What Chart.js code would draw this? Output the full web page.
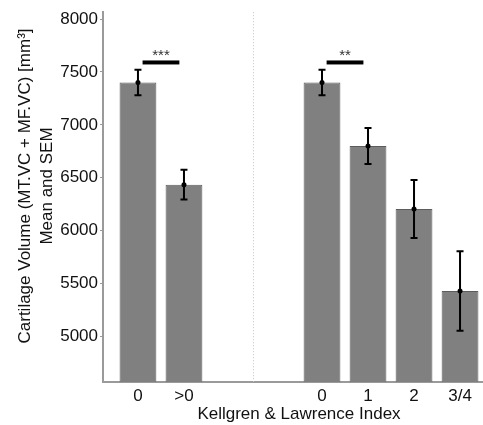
<!DOCTYPE html>
<html>
<head>
<meta charset="utf-8">
<script src="https://cdn.jsdelivr.net/npm/chart.js@4"></script>
<style>
    html, body { margin: 0; padding: 0; background: #fff; overflow: hidden; }
    #wrap { width: 483px; height: 425px; overflow: hidden; }
</style>
</head>
<body>
<div id="wrap"><canvas id="barChart" width="497" height="425"></canvas></div>
<script>
// KL grade groups; the two blank slots are the gap between the panels
const categories = ['0', '>0', '', '', '0', '1', '2', '3/4'];
const means = [7400, 6435, null, null, 7400, 6800, 6205, 5430];
const sems = [120, 140, null, null, 120, 170, 275, 375];
const yTicks = [5000, 5500, 6000, 6500, 7000, 7500, 8000];
const sigPairs = [[0, 1], [4, 5]];
const sigLabels = ['***', '**'];
const sigLevel = 7590;
const yTitle = ['Cartilage Volume (MT.VC + MF.VC) [mm\u00b3]', 'Mean and SEM'];
const xTitle = 'Kellgren & Lawrence Index';

const fontFamily = '"Liberation Sans", Arial, Helvetica, sans-serif';

const barData = [];
means.forEach((m, i) => { if (m !== null) barData.push({x: i, y: m}); });

const extras = {
    id: 'extras',
    beforeDatasetsDraw(chart) {
        // dotted separator between the two groups
        const ctx = chart.ctx, xs = chart.scales.x, area = chart.chartArea;
        const x = Math.round(xs.getPixelForValue(2.5)) + 0.5;
        ctx.save();
        ctx.strokeStyle = '#c4c4c4';
        ctx.lineWidth = 1;
        ctx.setLineDash([1, 2]);
        ctx.beginPath();
        ctx.moveTo(x, area.top);
        ctx.lineTo(x, area.bottom);
        ctx.stroke();
        ctx.restore();
    },
    afterDatasetsDraw(chart) {
        const ctx = chart.ctx, xs = chart.scales.x, ys = chart.scales.y;
        ctx.save();
        // error bars (mean +/- SEM)
        ctx.strokeStyle = '#000';
        ctx.fillStyle = '#000';
        ctx.lineWidth = 2;
        means.forEach((m, i) => {
            if (m === null) return;
            const x = xs.getPixelForValue(i);
            const yT = ys.getPixelForValue(m + sems[i]);
            const yB = ys.getPixelForValue(m - sems[i]);
            ctx.beginPath();
            ctx.moveTo(x, yT); ctx.lineTo(x, yB);
            ctx.moveTo(x - 3.5, yT); ctx.lineTo(x + 3.5, yT);
            ctx.moveTo(x - 3.5, yB); ctx.lineTo(x + 3.5, yB);
            ctx.stroke();
            ctx.beginPath();
            ctx.arc(x, ys.getPixelForValue(m), 2.5, 0, Math.PI * 2);
            ctx.fill();
        });
        // significance brackets
        const yl = ys.getPixelForValue(sigLevel);
        sigPairs.forEach((p, k) => {
            const x1 = xs.getPixelForValue(p[0] + 0.1);
            const x2 = xs.getPixelForValue(p[1] - 0.1);
            ctx.fillRect(x1, yl - 2, x2 - x1, 4);
            ctx.font = '15px ' + fontFamily;
            ctx.fillStyle = '#333';
            ctx.textAlign = 'center';
            ctx.textBaseline = 'alphabetic';
            ctx.fillText(sigLabels[k], (x1 + x2) / 2, yl - 2.5);
            ctx.fillStyle = '#000';
        });
        // y axis title, two lines
        ctx.fillStyle = '#111';
        ctx.font = '17px ' + fontFamily;
        ctx.textAlign = 'center';
        ctx.textBaseline = 'middle';
        ctx.translate(25, 186);
        ctx.rotate(-Math.PI / 2);
        yTitle.forEach((t, k) => ctx.fillText(t, 0, k * 22));
        ctx.restore();
    }
};

const ctx = document.getElementById('barChart').getContext('2d');
const barChart = new Chart(ctx, {
    type: 'bar',
    data: {
        datasets: [{
            data: barData,
            backgroundColor: '#808080',
            borderColor: '#5c5c5c',
            borderWidth: 1,
            categoryPercentage: 0.8,
            barPercentage: 1
        }]
    },
    options: {
        responsive: false,
        animation: false,
        layout: { padding: { top: 12, right: 2, left: 0, bottom: 0 } },
        plugins: { legend: { display: false }, tooltip: { enabled: false } },
        scales: {
            x: {
                type: 'linear',
                offset: false,
                min: -0.76,
                max: 7.76,
                afterBuildTicks: (scale) => {
                    scale.ticks = categories.map((c, i) => ({value: i})).filter(t => categories[t.value] !== '');
                },
                afterFit: (scale) => { scale.height = 43; },
                ticks: {
                    callback: (v) => categories[v],
                    color: '#111',
                    padding: 4,
                    maxRotation: 0,
                    autoSkip: false,
                    font: { family: fontFamily, size: 17 }
                },
                grid: { display: false, drawTicks: false },
                border: { display: true, color: '#9a9a9a', width: 2 },
                title: {
                    display: true,
                    text: xTitle,
                    color: '#111',
                    padding: { top: 0, bottom: 0 },
                    font: { family: fontFamily, size: 17, lineHeight: 1.3 }
                }
            },
            y: {
                min: 4570,
                max: 8065,
                afterBuildTicks: (scale) => { scale.ticks = yTicks.map(v => ({value: v})); },
                afterFit: (scale) => { scale.width = 103; },
                ticks: {
                    callback: (v) => String(v),
                    color: '#111',
                    padding: 2,
                    font: { family: fontFamily, size: 17 }
                },
                grid: { drawOnChartArea: false, drawTicks: true, tickLength: 3, color: '#9a9a9a' },
                border: { display: true, color: '#9a9a9a', width: 2 }
            }
        }
    },
    plugins: [extras]
});
</script>
</body>
</html>
